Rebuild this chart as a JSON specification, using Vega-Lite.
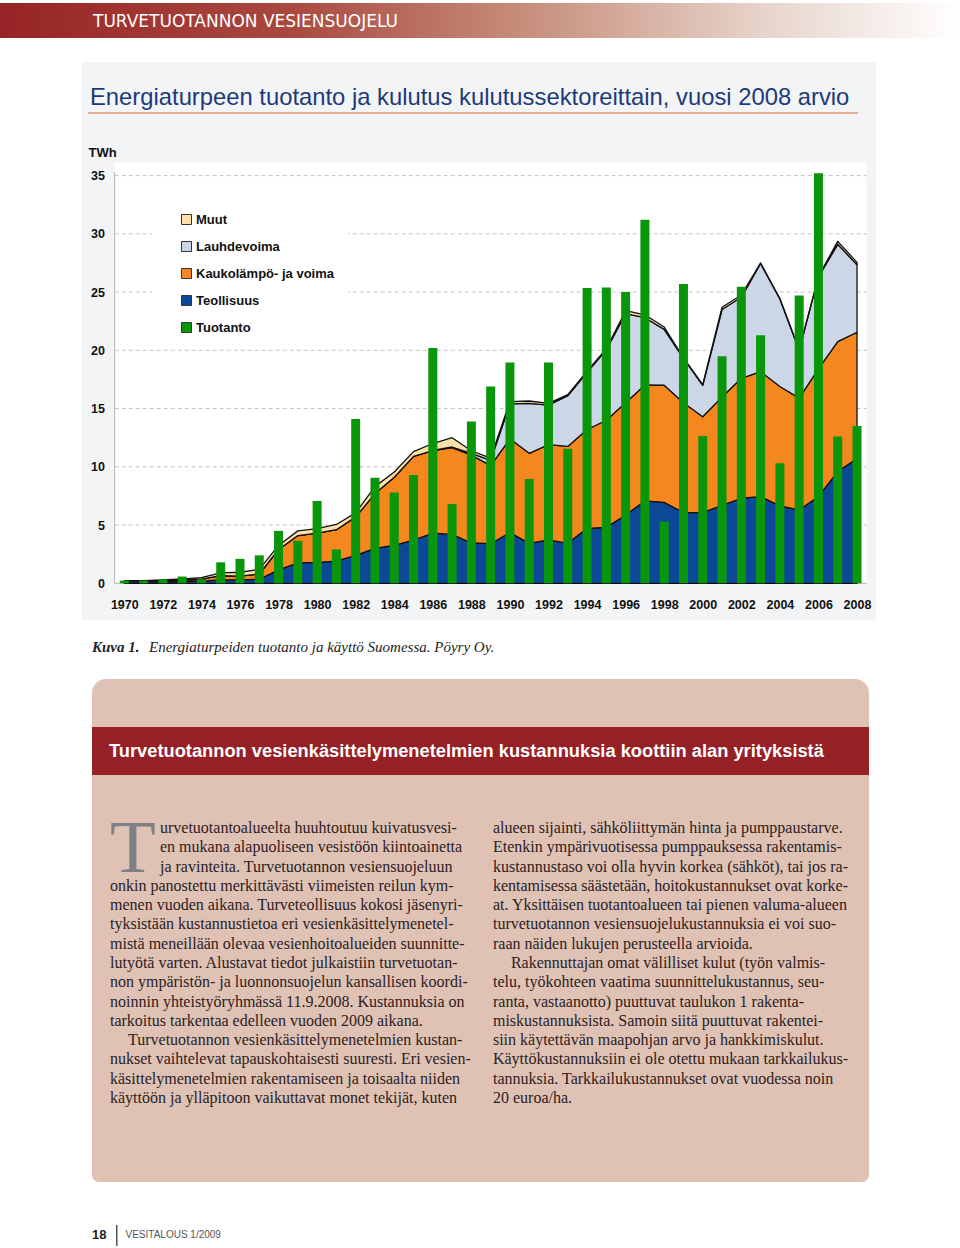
{
  "$schema": "https://vega.github.io/schema/vega-lite/v6.json",
  "padding": {"top": 3, "left": 0, "right": 0, "bottom": 0},
  "background": "white",
  "config": {
    "view": {"stroke": null},
    "concat": {"spacing": 0},
    "title": {"frame": "group", "anchor": "start", "orient": "bottom", "baseline": "top"}
  },
  "datasets": {
    "vuodet": [
      {"vuosi": 1970, "Teollisuus": 0.15, "Kaukolämpö- ja voima": 0.03, "Lauhdevoima": 0, "Muut": 0.04, "Tuotanto": 0.23},
      {"vuosi": 1971, "Teollisuus": 0.15, "Kaukolämpö- ja voima": 0.03, "Lauhdevoima": 0, "Muut": 0.05, "Tuotanto": 0.23},
      {"vuosi": 1972, "Teollisuus": 0.15, "Kaukolämpö- ja voima": 0.07, "Lauhdevoima": 0, "Muut": 0.08, "Tuotanto": 0.35},
      {"vuosi": 1973, "Teollisuus": 0.15, "Kaukolämpö- ja voima": 0.13, "Lauhdevoima": 0, "Muut": 0.1, "Tuotanto": 0.58},
      {"vuosi": 1974, "Teollisuus": 0.18, "Kaukolämpö- ja voima": 0.17, "Lauhdevoima": 0, "Muut": 0.13, "Tuotanto": 0.35},
      {"vuosi": 1975, "Teollisuus": 0.3, "Kaukolämpö- ja voima": 0.35, "Lauhdevoima": 0, "Muut": 0.25, "Tuotanto": 1.8},
      {"vuosi": 1976, "Teollisuus": 0.3, "Kaukolämpö- ja voima": 0.32, "Lauhdevoima": 0, "Muut": 0.33, "Tuotanto": 2.1},
      {"vuosi": 1977, "Teollisuus": 0.35, "Kaukolämpö- ja voima": 0.45, "Lauhdevoima": 0, "Muut": 0.4, "Tuotanto": 2.4},
      {"vuosi": 1978, "Teollisuus": 1.15, "Kaukolämpö- ja voima": 1.75, "Lauhdevoima": 0, "Muut": 0.35, "Tuotanto": 4.5},
      {"vuosi": 1979, "Teollisuus": 1.75, "Kaukolämpö- ja voima": 2.35, "Lauhdevoima": 0, "Muut": 0.4, "Tuotanto": 3.65},
      {"vuosi": 1980, "Teollisuus": 1.8, "Kaukolämpö- ja voima": 2.5, "Lauhdevoima": 0, "Muut": 0.4, "Tuotanto": 7.07},
      {"vuosi": 1981, "Teollisuus": 1.9, "Kaukolämpö- ja voima": 2.7, "Lauhdevoima": 0, "Muut": 0.45, "Tuotanto": 2.9},
      {"vuosi": 1982, "Teollisuus": 2.4, "Kaukolämpö- ja voima": 3.3, "Lauhdevoima": 0, "Muut": 0.35, "Tuotanto": 14.1},
      {"vuosi": 1983, "Teollisuus": 3.0, "Kaukolämpö- ja voima": 4.7, "Lauhdevoima": 0, "Muut": 0.6, "Tuotanto": 9.07},
      {"vuosi": 1984, "Teollisuus": 3.26, "Kaukolämpö- ja voima": 5.84, "Lauhdevoima": 0, "Muut": 0.45, "Tuotanto": 7.8},
      {"vuosi": 1985, "Teollisuus": 3.7, "Kaukolämpö- ja voima": 7.2, "Lauhdevoima": 0, "Muut": 0.4, "Tuotanto": 9.3},
      {"vuosi": 1986, "Teollisuus": 4.3, "Kaukolämpö- ja voima": 7.1, "Lauhdevoima": 0, "Muut": 0.6, "Tuotanto": 20.2},
      {"vuosi": 1987, "Teollisuus": 4.2, "Kaukolämpö- ja voima": 7.45, "Lauhdevoima": 0.05, "Muut": 0.8, "Tuotanto": 6.8},
      {"vuosi": 1988, "Teollisuus": 3.46, "Kaukolämpö- ja voima": 7.54, "Lauhdevoima": 0.15, "Muut": 0.23, "Tuotanto": 13.9},
      {"vuosi": 1989, "Teollisuus": 3.4, "Kaukolämpö- ja voima": 6.7, "Lauhdevoima": 0.45, "Muut": 0.2, "Tuotanto": 16.9},
      {"vuosi": 1990, "Teollisuus": 4.35, "Kaukolämpö- ja voima": 8.05, "Lauhdevoima": 3.0, "Muut": 0.2, "Tuotanto": 18.95},
      {"vuosi": 1991, "Teollisuus": 3.43, "Kaukolämpö- ja voima": 7.73, "Lauhdevoima": 4.29, "Muut": 0.2, "Tuotanto": 8.95},
      {"vuosi": 1992, "Teollisuus": 3.72, "Kaukolämpö- ja voima": 8.18, "Lauhdevoima": 3.4, "Muut": 0.15, "Tuotanto": 18.95},
      {"vuosi": 1993, "Teollisuus": 3.43, "Kaukolämpö- ja voima": 8.32, "Lauhdevoima": 4.35, "Muut": 0.1, "Tuotanto": 11.55},
      {"vuosi": 1994, "Teollisuus": 4.72, "Kaukolämpö- ja voima": 8.48, "Lauhdevoima": 4.9, "Muut": 0.1, "Tuotanto": 25.35},
      {"vuosi": 1995, "Teollisuus": 4.8, "Kaukolämpö- ja voima": 9.2, "Lauhdevoima": 6.05, "Muut": 0.1, "Tuotanto": 25.4},
      {"vuosi": 1996, "Teollisuus": 5.87, "Kaukolämpö- ja voima": 9.63, "Lauhdevoima": 7.65, "Muut": 0.25, "Tuotanto": 25.0},
      {"vuosi": 1997, "Teollisuus": 7.07, "Kaukolämpö- ja voima": 9.96, "Lauhdevoima": 5.77, "Muut": 0.25, "Tuotanto": 31.2},
      {"vuosi": 1998, "Teollisuus": 6.95, "Kaukolämpö- ja voima": 10.05, "Lauhdevoima": 4.8, "Muut": 0.2, "Tuotanto": 5.3},
      {"vuosi": 1999, "Teollisuus": 6.07, "Kaukolämpö- ja voima": 9.43, "Lauhdevoima": 3.8, "Muut": 0.05, "Tuotanto": 25.7},
      {"vuosi": 2000, "Teollisuus": 6.07, "Kaukolämpö- ja voima": 8.23, "Lauhdevoima": 2.7, "Muut": 0.05, "Tuotanto": 12.65},
      {"vuosi": 2001, "Teollisuus": 6.7, "Kaukolämpö- ja voima": 9.3, "Lauhdevoima": 7.5, "Muut": 0.2, "Tuotanto": 19.5},
      {"vuosi": 2002, "Teollisuus": 7.3, "Kaukolämpö- ja voima": 10.3, "Lauhdevoima": 6.95, "Muut": 0.2, "Tuotanto": 25.45},
      {"vuosi": 2003, "Teollisuus": 7.44, "Kaukolämpö- ja voima": 10.73, "Lauhdevoima": 9.28, "Muut": 0.05, "Tuotanto": 21.3},
      {"vuosi": 2004, "Teollisuus": 6.64, "Kaukolämpö- ja voima": 10.26, "Lauhdevoima": 7.5, "Muut": 0.05, "Tuotanto": 10.3},
      {"vuosi": 2005, "Teollisuus": 6.3, "Kaukolämpö- ja voima": 9.6, "Lauhdevoima": 4.1, "Muut": 0.05, "Tuotanto": 24.7},
      {"vuosi": 2006, "Teollisuus": 7.44, "Kaukolämpö- ja voima": 10.96, "Lauhdevoima": 7.9, "Muut": 0.05, "Tuotanto": 35.2},
      {"vuosi": 2007, "Teollisuus": 9.6, "Kaukolämpö- ja voima": 11.15, "Lauhdevoima": 8.35, "Muut": 0.25, "Tuotanto": 12.6},
      {"vuosi": 2008, "Teollisuus": 10.7, "Kaukolämpö- ja voima": 10.85, "Lauhdevoima": 5.8, "Muut": 0.2, "Tuotanto": 13.5}
    ],
    "sektorit": [
      {"sektori": "Teollisuus", "jarjestys": 1},
      {"sektori": "Kaukolämpö- ja voima", "jarjestys": 2},
      {"sektori": "Lauhdevoima", "jarjestys": 3},
      {"sektori": "Muut", "jarjestys": 4}
    ],
    "rivit": [
      {"sarake": 1, "rivi": 3, "teksti": "T", "tyyppi": "kirjain"},
      {"sarake": 1, "rivi": 1, "teksti": "urvetuotantoalueelta huuhtoutuu kuivatusvesi-", "tyyppi": "anfangi"},
      {"sarake": 1, "rivi": 2, "teksti": "en mukana alapuoliseen vesistöön kiintoainetta", "tyyppi": "anfangi"},
      {"sarake": 1, "rivi": 3, "teksti": "ja ravinteita. Turvetuotannon vesiensuojeluun", "tyyppi": "anfangi"},
      {"sarake": 1, "rivi": 4, "teksti": "onkin panostettu merkittävästi viimeisten reilun kym-", "tyyppi": "normaali"},
      {"sarake": 1, "rivi": 5, "teksti": "menen vuoden aikana. Turveteollisuus kokosi jäsenyri-", "tyyppi": "normaali"},
      {"sarake": 1, "rivi": 6, "teksti": "tyksistään kustannustietoa eri vesienkäsittelymenetel-", "tyyppi": "normaali"},
      {"sarake": 1, "rivi": 7, "teksti": "mistä meneillään olevaa vesienhoitoalueiden suunnitte-", "tyyppi": "normaali"},
      {"sarake": 1, "rivi": 8, "teksti": "lutyötä varten. Alustavat tiedot julkaistiin turvetuotan-", "tyyppi": "normaali"},
      {"sarake": 1, "rivi": 9, "teksti": "non ympäristön- ja luonnonsuojelun kansallisen koordi-", "tyyppi": "normaali"},
      {"sarake": 1, "rivi": 10, "teksti": "noinnin yhteistyöryhmässä 11.9.2008. Kustannuksia on", "tyyppi": "normaali"},
      {"sarake": 1, "rivi": 11, "teksti": "tarkoitus tarkentaa edelleen vuoden 2009 aikana.", "tyyppi": "normaali"},
      {"sarake": 1, "rivi": 12, "teksti": "Turvetuotannon vesienkäsittelymenetelmien kustan-", "tyyppi": "sisennys"},
      {"sarake": 1, "rivi": 13, "teksti": "nukset vaihtelevat tapauskohtaisesti suuresti. Eri vesien-", "tyyppi": "normaali"},
      {"sarake": 1, "rivi": 14, "teksti": "käsittelymenetelmien rakentamiseen ja toisaalta niiden", "tyyppi": "normaali"},
      {"sarake": 1, "rivi": 15, "teksti": "käyttöön ja ylläpitoon vaikuttavat monet tekijät, kuten", "tyyppi": "normaali"},
      {"sarake": 2, "rivi": 1, "teksti": "alueen sijainti, sähköliittymän hinta ja pumppaustarve.", "tyyppi": "normaali"},
      {"sarake": 2, "rivi": 2, "teksti": "Etenkin ympärivuotisessa pumppauksessa rakentamis-", "tyyppi": "normaali"},
      {"sarake": 2, "rivi": 3, "teksti": "kustannustaso voi olla hyvin korkea (sähköt), tai jos ra-", "tyyppi": "normaali"},
      {"sarake": 2, "rivi": 4, "teksti": "kentamisessa säästetään, hoitokustannukset ovat korke-", "tyyppi": "normaali"},
      {"sarake": 2, "rivi": 5, "teksti": "at. Yksittäisen tuotantoalueen tai pienen valuma-alueen", "tyyppi": "normaali"},
      {"sarake": 2, "rivi": 6, "teksti": "turvetuotannon vesiensuojelukustannuksia ei voi suo-", "tyyppi": "normaali"},
      {"sarake": 2, "rivi": 7, "teksti": "raan näiden lukujen perusteella arvioida.", "tyyppi": "normaali"},
      {"sarake": 2, "rivi": 8, "teksti": "Rakennuttajan omat välilliset kulut (työn valmis-", "tyyppi": "sisennys"},
      {"sarake": 2, "rivi": 9, "teksti": "telu, työkohteen vaatima suunnittelukustannus, seu-", "tyyppi": "normaali"},
      {"sarake": 2, "rivi": 10, "teksti": "ranta, vastaanotto) puuttuvat taulukon 1 rakenta-", "tyyppi": "normaali"},
      {"sarake": 2, "rivi": 11, "teksti": "miskustannuksista. Samoin siitä puuttuvat rakentei-", "tyyppi": "normaali"},
      {"sarake": 2, "rivi": 12, "teksti": "siin käytettävän maapohjan arvo ja hankkimiskulut.", "tyyppi": "normaali"},
      {"sarake": 2, "rivi": 13, "teksti": "Käyttökustannuksiin ei ole otettu mukaan tarkkailukus-", "tyyppi": "normaali"},
      {"sarake": 2, "rivi": 14, "teksti": "tannuksia. Tarkkailukustannukset ovat vuodessa noin", "tyyppi": "normaali"},
      {"sarake": 2, "rivi": 15, "teksti": "20 euroa/ha.", "tyyppi": "normaali"}
    ]
  },
  "spacing": 0,
  "vconcat": [
    {
      "width": 960,
      "height": 35,
      "data": {"values": [{}]},
      "mark": {"type": "rect", "color": {"gradient": "linear", "x1": 0, "y1": 0, "x2": 1, "y2": 0, "stops": [
        {"offset": 0, "color": "#972426"},
        {"offset": 0.3, "color": "#a9483f"},
        {"offset": 0.55, "color": "#c78f7c"},
        {"offset": 0.8, "color": "#e8d5cc"},
        {"offset": 1, "color": "#ffffff"}
      ]}},
      "encoding": {},
      "title": {"text": "TURVETUOTANNON VESIENSUOJELU", "dx": 93, "offset": -24, "color": "white", "font": "DejaVu Sans", "fontSize": 17, "fontWeight": "normal"}
    },
    {"width": 960, "height": 24, "data": {"values": []}, "mark": "point"},
    {
      "spacing": 0,
      "hconcat": [
        {"width": 82, "height": 558, "data": {"values": []}, "mark": "point"},
        {
          "width": 794,
          "height": 558,
          "view": {"fill": "#f3f4f6"},
          "title": {"text": "Energiaturpeen tuotanto ja kulutus kulutussektoreittain, vuosi 2008 arvio", "dx": 8, "offset": -534, "font": "Liberation Sans", "fontSize": 23.8, "fontWeight": "normal", "color": "#1c3a7a"},
          "data": {"name": "vuodet"},
          "layer": [
            {
              "data": {"values": [{}]},
              "mark": {"type": "rect", "color": "white"},
              "encoding": {
                "x": {"datum": 1969.5, "type": "quantitative", "scale": {"domain": [1967.806, 2008.985], "nice": false, "zero": false, "padding": 0}},
                "x2": {"datum": 2008.5},
                "y": {"datum": 0, "type": "quantitative", "scale": {"domain": [-3.15, 44.75], "nice": false, "zero": false}},
                "y2": {"datum": 36.1}
              }
            },
            {
              "data": {"values": [{"taso": 5}, {"taso": 10}, {"taso": 15}, {"taso": 20}, {"taso": 25}, {"taso": 30}, {"taso": 35}]},
              "mark": {"type": "rule", "color": "#c4c4c4", "strokeDash": [4, 3], "strokeWidth": 1},
              "encoding": {
                "y": {"field": "taso", "type": "quantitative"},
                "x": {"datum": 1969.5, "type": "quantitative"},
                "x2": {"datum": 2008.5}
              }
            },
            {
              "data": {"values": [{}]},
              "mark": {"type": "rule", "color": "#b5b5b5", "strokeWidth": 1},
              "encoding": {
                "y": {"datum": 0, "type": "quantitative"},
                "x": {"datum": 1969.5, "type": "quantitative"},
                "x2": {"datum": 2008.5}
              }
            },
            {
              "data": {"values": [{}]},
              "mark": {"type": "rule", "color": "#b5b5b5", "strokeWidth": 1},
              "encoding": {
                "x": {"datum": 1969.5, "type": "quantitative"},
                "y": {"datum": 0, "type": "quantitative"},
                "y2": {"datum": 35.3}
              }
            },
            {
              "data": {"values": [{}]},
              "mark": {"type": "rule", "color": "#e39b74", "strokeWidth": 1.5},
              "encoding": {
                "y": {"datum": 40.37, "type": "quantitative"},
                "x": {"datum": 1968.117, "type": "quantitative"},
                "x2": {"datum": 2008.055}
              }
            },
            {
              "transform": [
                {"fold": ["Teollisuus", "Kaukolämpö- ja voima", "Lauhdevoima", "Muut"], "as": ["sektori", "arvo"]},
                {"lookup": "sektori", "from": {"data": {"name": "sektorit"}, "key": "sektori", "fields": ["jarjestys"]}}
              ],
              "mark": {"type": "area", "stroke": "#111111", "strokeWidth": 1.3, "strokeJoin": "round", "interpolate": "linear"},
              "encoding": {
                "x": {"field": "vuosi", "type": "quantitative",
                  "scale": {"domain": [1967.806, 2008.985], "nice": false, "zero": false, "padding": 0},
                  "axis": {"values": [1970, 1972, 1974, 1976, 1978, 1980, 1982, 1984, 1986, 1988, 1990, 1992, 1994, 1996, 1998, 2000, 2002, 2004, 2006, 2008],
                    "format": "d", "offset": -36.7, "domain": false, "ticks": false, "grid": false, "labelPadding": 15,
                    "labelFont": "Liberation Sans", "labelFontSize": 12.5, "labelFontWeight": "bold", "labelColor": "#111111",
                    "labelOverlap": false, "labelFlush": false, "title": null}},
                "y": {"field": "arvo", "type": "quantitative", "stack": "zero",
                  "scale": {"domain": [-3.15, 44.75], "nice": false, "zero": false},
                  "axis": {"values": [0, 5, 10, 15, 20, 25, 30, 35], "offset": -32.5, "domain": false, "ticks": false, "grid": false,
                    "labelPadding": 10, "labelFont": "Liberation Sans", "labelFontSize": 12.5, "labelFontWeight": "bold", "labelColor": "#111111", "labelOverlap": false,
                    "title": "TWh", "titleAngle": 0, "titleAlign": "left", "titleBaseline": "middle", "titleX": -26.5, "titleY": 90,
                    "titleFont": "Liberation Sans", "titleFontSize": 13, "titleFontWeight": "bold", "titleColor": "#111111"}},
                "color": {"field": "sektori", "type": "nominal",
                  "scale": {"domain": ["Muut", "Lauhdevoima", "Kaukolämpö- ja voima", "Teollisuus", "Tuotanto"], "range": ["#fde0aa", "#cbd6e6", "#f5871f", "#0b4897", "#0a960a"]},
                  "legend": {"title": null, "orient": "none", "legendX": 152, "legendY": 196,
                    "values": ["Muut", "Lauhdevoima", "Kaukolämpö- ja voima", "Teollisuus", "Tuotanto"],
                    "symbolType": "square", "symbolSize": 100, "symbolStrokeColor": "#333333", "symbolStrokeWidth": 1,
                    "labelFont": "Liberation Sans", "labelFontSize": 13, "labelFontWeight": "bold", "labelColor": "#111111",
                    "labelOffset": 3, "rowPadding": 12, "padding": 14, "symbolOffset": 14, "fillColor": "white"}},
                "order": {"field": "jarjestys", "type": "quantitative"}
              }
            },
            {
              "mark": {"type": "bar", "width": 9},
              "encoding": {
                "x": {"field": "vuosi", "type": "quantitative"},
                "y": {"field": "Tuotanto", "type": "quantitative"},
                "y2": {"datum": 0},
                "color": {"datum": "Tuotanto", "type": "nominal"}
              }
            }
          ]
        }
      ]
    },
    {
      "spacing": 0,
      "hconcat": [
        {"width": 149, "height": 59, "data": {"values": []}, "mark": "point",
          "title": {"text": "Kuva 1.", "dx": 92, "offset": -39, "font": "Liberation Serif", "fontSize": 15, "fontStyle": "italic", "fontWeight": "bold", "color": "#222222"}},
        {"width": 811, "height": 59, "data": {"values": []}, "mark": "point",
          "title": {"text": "Energiaturpeiden tuotanto ja käyttö Suomessa. Pöyry Oy.", "dx": 0, "offset": -39, "font": "Liberation Serif", "fontSize": 15, "fontStyle": "italic", "fontWeight": "normal", "color": "#222222"}}
      ]
    },
    {
      "spacing": 0,
      "hconcat": [
        {"width": 92, "height": 1, "data": {"values": []}, "mark": "point"},
        {
          "spacing": 0,
          "vconcat": [
            {"width": 777, "height": 48, "data": {"values": [{}]},
              "mark": {"type": "rect", "color": "#e0c2b5", "cornerRadiusTopLeft": 14, "cornerRadiusTopRight": 14},
              "encoding": {}},
            {"width": 777, "height": 48, "view": {"fill": "#952126"}, "data": {"values": []}, "mark": "point",
              "title": {"text": "Turvetuotannon vesienkäsittelymenetelmien kustannuksia koottiin alan yrityksistä", "dx": 17, "offset": -32,
                "font": "Liberation Sans", "fontSize": 18.3, "fontWeight": "bold", "color": "white"}},
            {
              "width": 777,
              "height": 393,
              "view": {"fill": "#e0c2b5"},
              "data": {"name": "rivit"},
              "encoding": {
                "x": {"field": "sarake", "type": "quantitative", "scale": {"domain": [0.953, 2.982], "nice": false, "zero": false}, "axis": null},
                "y": {"field": "rivi", "type": "quantitative", "scale": {"domain": [-2.007, 18.366], "nice": false, "zero": false, "reverse": true}, "axis": null},
                "text": {"field": "teksti"}
              },
              "layer": [
                {"transform": [{"filter": {"field": "tyyppi", "equal": "normaali"}}],
                  "mark": {"type": "text", "align": "left", "baseline": "alphabetic", "font": "Liberation Serif", "fontSize": 16, "color": "#2b211e"}},
                {"transform": [{"filter": {"field": "tyyppi", "equal": "anfangi"}}],
                  "mark": {"type": "text", "align": "left", "baseline": "alphabetic", "dx": 50, "font": "Liberation Serif", "fontSize": 16, "color": "#2b211e"}},
                {"transform": [{"filter": {"field": "tyyppi", "equal": "sisennys"}}],
                  "mark": {"type": "text", "align": "left", "baseline": "alphabetic", "dx": 18, "font": "Liberation Serif", "fontSize": 16, "color": "#2b211e"}},
                {"transform": [{"filter": {"field": "tyyppi", "equal": "kirjain"}}],
                  "mark": {"type": "text", "align": "left", "baseline": "alphabetic", "font": "Liberation Serif", "fontSize": 75, "color": "#7e8183"}}
              ]
            },
            {"width": 777, "height": 14, "data": {"values": [{}]},
              "mark": {"type": "rect", "color": "#e0c2b5", "cornerRadiusBottomLeft": 14, "cornerRadiusBottomRight": 14},
              "encoding": {}}
          ]
        }
      ]
    },
    {
      "spacing": 0,
      "hconcat": [
        {"width": 116, "height": 66, "data": {"values": []}, "mark": "point",
          "title": {"text": "18", "dx": 92, "offset": -18.6, "font": "Liberation Sans", "fontSize": 13, "fontWeight": "bold", "color": "#222222"}},
        {
          "spacing": 0,
          "vconcat": [
            {"width": 1.5, "height": 43, "data": {"values": []}, "mark": "point"},
            {"width": 1.5, "height": 21, "view": {"fill": "#555555"}, "data": {"values": []}, "mark": "point"}
          ]
        },
        {"width": 842, "height": 66, "data": {"values": []}, "mark": "point",
          "title": {"text": "VESITALOUS 1/2009", "dx": 7.5, "offset": -17.9, "font": "Liberation Sans", "fontSize": 10, "fontWeight": "normal", "color": "#555555"}}
      ]
    }
  ]
}
